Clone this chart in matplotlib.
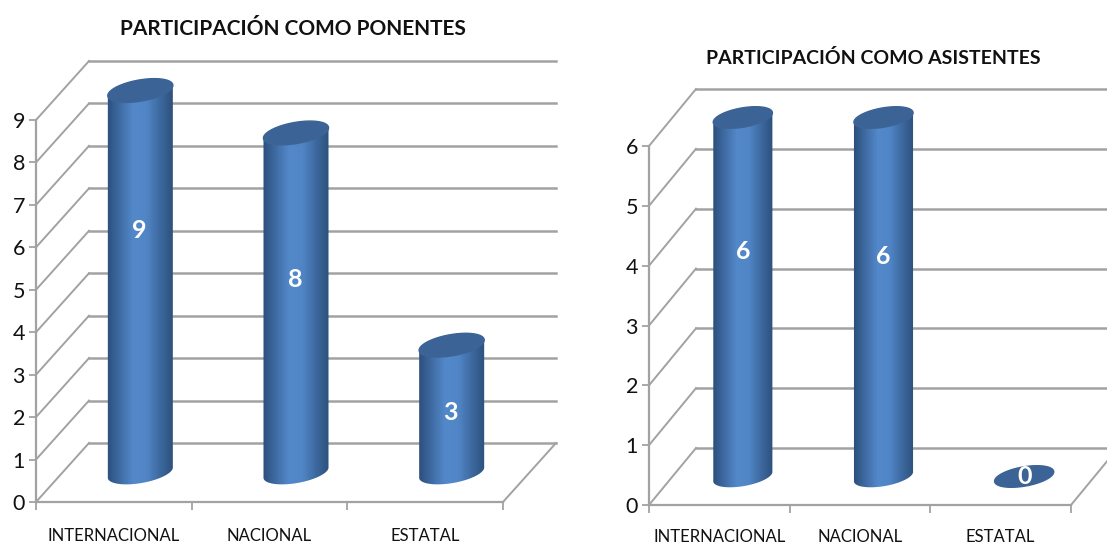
import numpy as np
import matplotlib
matplotlib.use('Agg')
import matplotlib.pyplot as plt
from matplotlib.colors import LinearSegmentedColormap
from matplotlib.patches import Polygon

plt.rcParams['font.family'] = ['Lato', 'DejaVu Sans']

W, H = 1107, 544

categories = ['INTERNACIONAL', 'NACIONAL', 'ESTATAL']
ponentes = [9, 8, 3]
asistentes = [6, 6, 0]
# where the data labels sit on the cylinders (value units)
ponentes_label_y = [6.4, 5.25, 2.1]
asistentes_label_y = [4.23, 4.16, 0.47]

GRID = '#a2a2a2'
cyl_cmap = LinearSegmentedColormap.from_list(
    'cyl', ['#2b4d78', '#3f6ba3', '#5388ca', '#5085c6', '#3d689e', '#2c4f7a'])
TOP = '#3b6395'


def ellipse(a, b, tilt_deg, t):
    # pixel offsets from the ellipse centre, y pointing up
    tilt = np.radians(tilt_deg)
    x = a * np.cos(t) * np.cos(tilt) - b * np.sin(t) * np.sin(tilt)
    y = a * np.cos(t) * np.sin(tilt) + b * np.sin(t) * np.cos(tilt)
    return x, y


def draw_chart(left, right, y0, ytop, depth_x, depth_y, values, label_y, ymax,
               cyl_w, title, title_x, title_y, title_size, label_dx, xlabel_pad):
    ax = fig.add_axes([left / W, (H - y0) / H, (right - left) / W, (y0 - ytop) / H])
    ax.patch.set_alpha(0)
    ax.set_xlim(0, 3)
    ax.set_ylim(0, ymax)
    px_x = 3 / (right - left)
    px_y = ymax / (y0 - ytop)
    dx = depth_x * px_x
    dy = depth_y * px_y

    # back wall and left wall grid
    for v in range(ymax + 1):
        ax.plot([dx, 3 + dx], [v + dy, v + dy], color=GRID, lw=1.8, clip_on=False, zorder=1)
        ax.plot([0, dx], [v, v + dy], color=GRID, lw=1.4, clip_on=False, zorder=1)
    # right edge of the floor
    ax.plot([3, 3 + dx], [0, dy], color=GRID, lw=1.4, clip_on=False, zorder=1)

    for s in ['top', 'right']:
        ax.spines[s].set_visible(False)
    for s in ['left', 'bottom']:
        ax.spines[s].set_color(GRID)
        ax.spines[s].set_linewidth(1.6)

    ax.set_yticks(range(ymax + 1))
    ax.set_xticks([0, 1, 2, 3])
    ax.set_xticklabels([])
    ax.set_xticks([0.5, 1.5, 2.5], minor=True)
    ax.set_xticklabels(categories, minor=True, fontsize=12, color='#111111')
    ax.tick_params(axis='x', which='major', length=6, color=GRID, width=1.3)
    ax.tick_params(axis='x', which='minor', length=0, pad=xlabel_pad)
    ax.tick_params(axis='y', length=5, color=GRID, width=1.3, labelsize=15.5,
                   labelcolor='#111111', pad=3)

    t = np.linspace(0, 2 * np.pi, 120)
    half = np.linspace(np.pi, 2 * np.pi, 60)
    a = cyl_w / 2
    b = cyl_w * 0.16
    for i, v in enumerate(values):
        # cylinders stand half way into the floor depth
        cx = i + 0.5 + dx / 2
        cy = dy / 2

        if v > 0:
            xb, yb = ellipse(a, b, 10, half)
            xt, yt = ellipse(a, b, 10, half[::-1])
            xs = np.r_[cx + xb * px_x, cx + xt * px_x]
            ys = np.r_[cy + yb * px_y, cy + v + yt * px_y]
            poly = Polygon(np.c_[xs, ys], closed=True, fc='none', ec='none')
            ax.add_patch(poly)
            grad = np.linspace(0, 1, 256).reshape(1, -1)
            im = ax.imshow(grad, cmap=cyl_cmap, aspect='auto', zorder=3,
                           extent=[cx - (a + 1) * px_x, cx + (a + 1) * px_x, 0, ymax + dy + 1])
            im.set_clip_path(poly)
            im.set_clip_box(fig.bbox)

        # top face
        xe, ye = ellipse(a, b, 10, t)
        ax.fill(cx + xe * px_x, cy + v + ye * px_y, color=TOP, zorder=4, clip_on=False)

        ax.text(cx + label_dx * px_x, label_y[i], str(v), color='white', fontsize=18,
                fontweight='bold', ha='center', va='center', zorder=5)

    ax.set_xlim(0, 3)
    ax.set_ylim(0, ymax)
    fig.text(title_x / W, 1 - title_y / H, title, fontsize=title_size, fontweight='bold',
             ha='center', va='center', color='#111111')


fig = plt.figure(figsize=(W / 100, H / 100), dpi=100, facecolor='white')

draw_chart(36, 503, 502, 120, 53, 59, ponentes, ponentes_label_y, 9, 66,
           'PARTICIPACIÓN COMO PONENTES', 293, 29, 15, -1, 19)
draw_chart(649, 1071, 505, 146, 47, 57, asistentes, asistentes_label_y, 6, 60,
           'PARTICIPACIÓN COMO ASISTENTES', 873, 58, 14, 0, 17)

fig.savefig('out.png', dpi=100)
